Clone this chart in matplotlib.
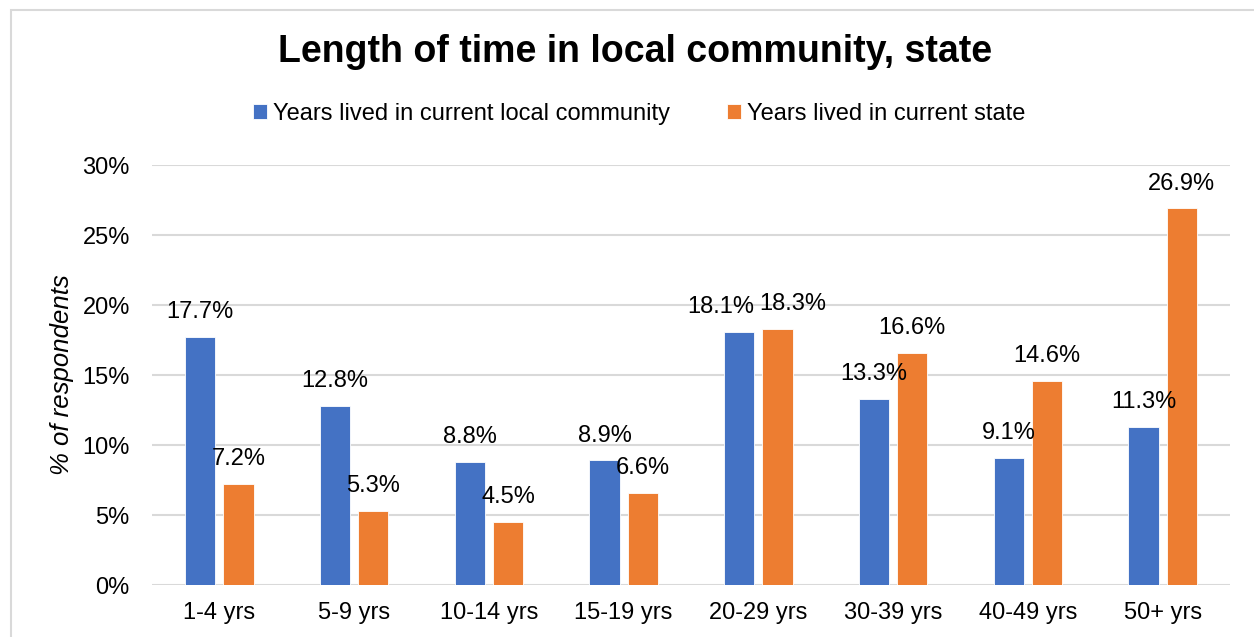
import matplotlib.pyplot as plt
import numpy as np
from matplotlib.patches import Rectangle

plt.rcParams['font.family'] = ['Liberation Sans', 'DejaVu Sans']

# survey results
categories = ['1-4 yrs', '5-9 yrs', '10-14 yrs', '15-19 yrs', '20-29 yrs', '30-39 yrs', '40-49 yrs', '50+ yrs']
community = [17.7, 12.8, 8.8, 8.9, 18.1, 13.3, 9.1, 11.3]
state = [7.2, 5.3, 4.5, 6.6, 18.3, 16.6, 14.6, 26.9]
series_names = ['Years lived in current local community', 'Years lived in current state']

blue = '#4472C4'
orange = '#ED7D31'
grid = '#D9D9D9'

# nudge labels that would collide (series index, category index) -> px
nudge = {(0, 4): -18, (1, 4): 15}

fig = plt.figure(figsize=(12.54, 6.37), dpi=100)

# outer chart frame
fig.patches.append(Rectangle((11 / 1254, -0.1), 1.2, 1 - 10 / 637 + 0.1, transform=fig.transFigure,
                             fill=False, edgecolor=grid, lw=1.5))

ax = fig.add_axes([152 / 1254, 1 - 585 / 637, (1230 - 152) / 1254, (585 - 165) / 637])

x = np.arange(len(categories))
w = 0.223
off = 0.142
b1 = ax.bar(x - off, community, w, color=blue, edgecolor='white', lw=0.6, label=series_names[0], zorder=3)
b2 = ax.bar(x + off, state, w, color=orange, edgecolor='white', lw=0.6, label=series_names[1], zorder=3)

for si, (bars, vals) in enumerate([(b1, community), (b2, state)]):
    for ci, (rect, v) in enumerate(zip(bars, vals)):
        dx = nudge.get((si, ci), 0) * 72 / 100
        ax.annotate('%.1f%%' % v, (rect.get_x() + rect.get_width() / 2, v),
                    xytext=(dx, 10), textcoords='offset points', ha='center', va='bottom',
                    fontsize=17, color='#000000', zorder=4)

ax.set_xlim(-0.5, len(categories) - 0.5)
ax.set_ylim(0, 30)
ax.set_yticks(np.arange(0, 31, 5))
ax.set_yticklabels(['%d%%' % t for t in range(0, 31, 5)])
ax.set_xticks(x)
ax.set_xticklabels(categories)
ax.tick_params(axis='both', length=0, labelsize=17, colors='#000000')
ax.tick_params(axis='y', pad=16)
ax.tick_params(axis='x', pad=12)
ax.grid(axis='y', color=grid, lw=1.5, zorder=0)
for s in ax.spines.values():
    s.set_visible(False)

fig.text(62 / 1254, 1 - 375 / 637, '% of respondents', rotation=90, style='italic',
         fontsize=18.5, ha='center', va='center')
fig.text(635 / 1254, 1 - 52 / 637, 'Length of time in local community, state',
         fontsize=27, fontweight='bold', ha='center', va='center')

fig.legend(loc='center', bbox_to_anchor=(639 / 1254, 1 - 114 / 637), ncol=2, frameon=False,
           fontsize=17, handlelength=0.6, handleheight=0.6, handletextpad=0.25, columnspacing=2.4)

fig.savefig('out.png', dpi=100)
